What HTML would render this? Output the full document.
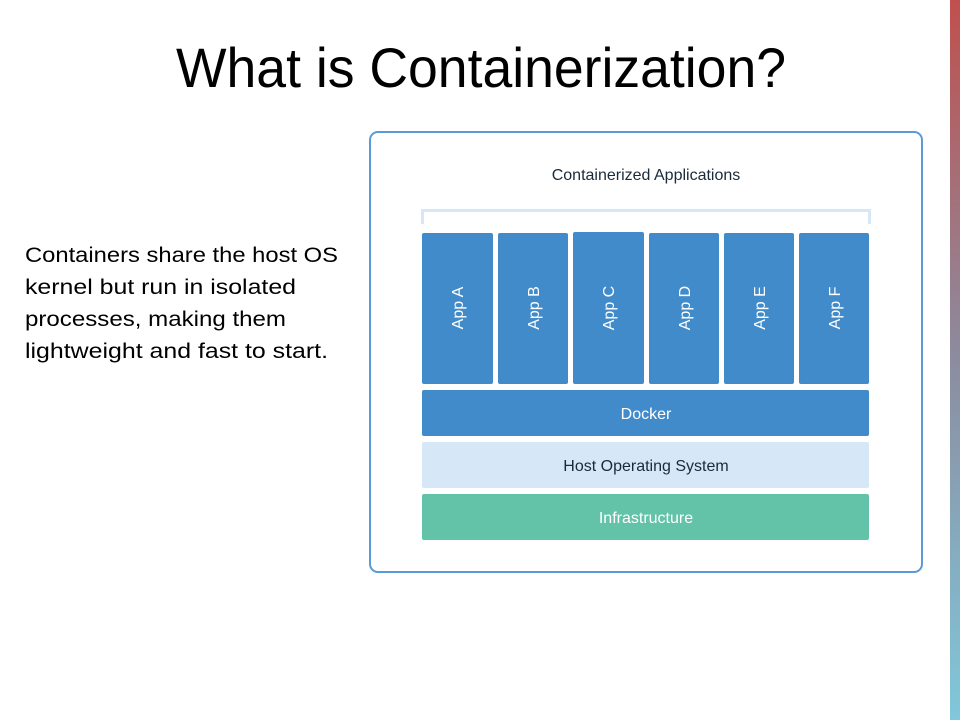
<!DOCTYPE html>
<html><head><meta charset="utf-8"><style>
html,body{margin:0;padding:0;background:#fff;width:960px;height:720px;overflow:hidden}
</style></head><body>
<svg width="960" height="720" xmlns="http://www.w3.org/2000/svg" font-family="Liberation Sans, sans-serif">
<defs><linearGradient id="g" x1="0" y1="0" x2="0" y2="1">
<stop offset="0" stop-color="#c0504d"/><stop offset="0.5" stop-color="#8c8ca0"/><stop offset="1" stop-color="#80c8da"/></linearGradient></defs>
<rect x="950" y="0" width="10" height="720" fill="url(#g)"/>
<text x="176" y="87" font-size="56" fill="#000" textLength="610" lengthAdjust="spacingAndGlyphs">What is Containerization?</text>
<g font-size="21" fill="#000">
<text x="25" y="262" textLength="313" lengthAdjust="spacingAndGlyphs">Containers share the host OS</text>
<text x="25" y="294" textLength="271" lengthAdjust="spacingAndGlyphs">kernel but run in isolated</text>
<text x="25" y="326" textLength="261" lengthAdjust="spacingAndGlyphs">processes, making them</text>
<text x="25" y="358" textLength="303" lengthAdjust="spacingAndGlyphs">lightweight and fast to start.</text>
</g>
<rect x="370" y="132" width="552" height="440" rx="8" fill="#fff" stroke="#5b9bd5" stroke-width="2"/>
<text x="646" y="180" font-size="16" fill="#1a2a3a" text-anchor="middle">Containerized Applications</text>
<path d="M422.5 224 V210.5 H869.5 V224" fill="none" stroke="#d6e8f7" stroke-width="3"/>
<g fill="#418bcb">
<rect x="422" y="233" width="71" height="151" rx="2"/>
<rect x="498" y="233" width="70" height="151" rx="2"/>
<rect x="573" y="232" width="71" height="152" rx="2"/>
<rect x="649" y="233" width="70" height="151" rx="2"/>
<rect x="724" y="233" width="70" height="151" rx="2"/>
<rect x="799" y="233" width="70" height="151" rx="2"/>
<rect x="422" y="390" width="447" height="46" rx="2"/>
</g>
<rect x="422" y="442" width="447" height="46" rx="2" fill="#d6e8f7"/>
<rect x="422" y="494" width="447" height="46" rx="2" fill="#62c3a9"/>
<g font-size="16" fill="#fff" text-anchor="middle">
<text transform="translate(463,308) rotate(-90)">App A</text>
<text transform="translate(539,308) rotate(-90)">App B</text>
<text transform="translate(614,308) rotate(-90)">App C</text>
<text transform="translate(690,308) rotate(-90)">App D</text>
<text transform="translate(765,308) rotate(-90)">App E</text>
<text transform="translate(840,308) rotate(-90)">App F</text>
<text x="646" y="419">Docker</text>
<text x="646" y="523">Infrastructure</text>
</g>
<text x="646" y="471" font-size="16" fill="#1a2a3a" text-anchor="middle">Host Operating System</text>
</svg>
</body></html>
